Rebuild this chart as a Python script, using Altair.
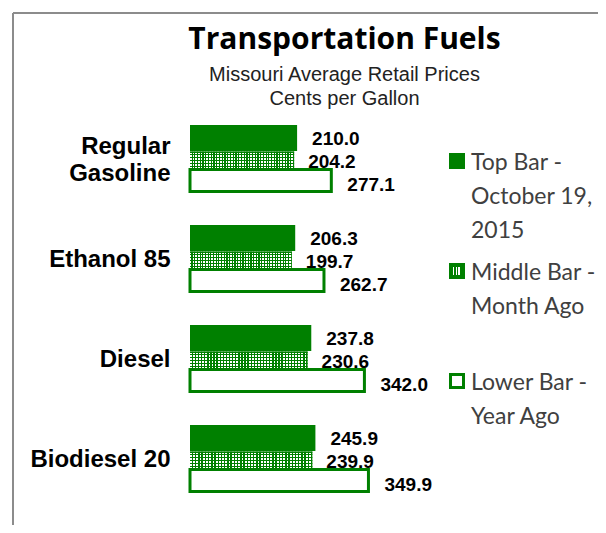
import altair as alt
import pandas as pd

# ---- data ----
fuels = ["Regular Gasoline", "Ethanol 85", "Diesel", "Biodiesel 20"]
current = [210.0, 206.3, 237.8, 245.9]      # Top Bar - October 19, 2015
month_ago = [204.2, 199.7, 230.6, 239.9]    # Middle Bar - Month Ago
year_ago = [277.1, 262.7, 342.0, 349.9]     # Lower Bar - Year Ago

legend_idx = [0, 1, 2]
legend_labels = ["Top Bar -\nOctober 19,\n2015", "Middle Bar -\nMonth Ago", "Lower Bar -\nYear Ago"]

GREEN = "#008000"

df = pd.DataFrame({"fuel": fuels, "current": current, "month": month_ago, "year": year_ago})
leg = pd.DataFrame({"idx": legend_idx, "label": legend_labels})
frame_df = pd.DataFrame({"k": [0]})


def stripes(n, on_frac, on_color, off_color, vertical):
    stops = []
    for i in range(n):
        a = round(i / n, 5)
        b = round((i + on_frac) / n, 5)
        c = round((i + 1) / n, 5)
        stops += [
            alt.GradientStop(offset=a, color=on_color),
            alt.GradientStop(offset=b, color=on_color),
            alt.GradientStop(offset=b, color=off_color),
            alt.GradientStop(offset=c, color=off_color),
        ]
    if vertical:
        return alt.LinearGradient(gradient="linear", stops=stops, x1=0, x2=0, y1=0, y2=1)
    return alt.LinearGradient(gradient="linear", stops=stops, x1=0, x2=1, y1=0, y2=0)


v_stripes = stripes(38, 0.55, "#ffffff", "rgba(255,255,255,0)", False)
h_stripes = stripes(6, 0.4, GREEN, "rgba(0,128,0,0)", True)
sym_stripes = stripes(3, 0.5, "#ffffff", GREEN, False)

y_enc = alt.Y(
    "fuel:N", sort=fuels, title=None,
    scale=alt.Scale(paddingInner=0, paddingOuter=0),
    axis=alt.Axis(domain=False, ticks=False, tickSize=0, grid=False, labelPadding=20,
                  labelFont="Liberation Sans", labelFontSize=24, labelFontWeight="bold",
                  labelColor="#000000", labelLineHeight=27, labelLimit=300,
                  labelOffset={"condition": {"test": "datum.label == 'Regular Gasoline'", "value": -13},
                               "value": 0},
                  labelExpr="datum.label == 'Regular Gasoline' ? ['Regular', 'Gasoline'] : datum.label"),
)
xscale = alt.Scale(domain=[0, 500], nice=False, zero=True)
x_cur = alt.X("current:Q", scale=xscale, axis=None)
x_mon = alt.X("month:Q", scale=xscale, axis=None)
x_yr = alt.X("year:Q", scale=xscale, axis=None)

base = alt.Chart(df)

top_bar = base.mark_bar(size=26, yOffset=-22, fill=GREEN).encode(x=x_cur, y=y_enc)
mid_bar = base.mark_bar(size=17, yOffset=0, fill=GREEN).encode(x=x_mon, y=y_enc)
mid_v = base.mark_bar(size=17, yOffset=0, fill=v_stripes).encode(x=x_mon, y=y_enc)
mid_h = base.mark_bar(size=17, yOffset=0, fill=h_stripes).encode(x=x_mon, y=y_enc)
low_bar = base.mark_bar(size=22, yOffset=20.5, fill="#ffffff", stroke=GREEN,
                        strokeWidth=3).encode(x=x_yr, y=y_enc)

txt = dict(align="left", baseline="middle", font="Liberation Sans", fontSize=19,
           fontWeight="bold", color="#000000")
lab_top = base.mark_text(dx=15, dy=-21, **txt).encode(
    x=x_cur, y=y_enc, text=alt.Text("current:Q", format=".1f"))
lab_mid = base.mark_text(dx=14, dy=2, **txt).encode(
    x=x_mon, y=y_enc, text=alt.Text("month:Q", format=".1f"))
lab_low = base.mark_text(dx=16, dy=25, **txt).encode(
    x=x_yr, y=y_enc, text=alt.Text("year:Q", format=".1f"))

main = alt.layer(top_bar, mid_bar, mid_v, mid_h, low_bar, lab_top, lab_mid, lab_low)

# ---- legend ----
y_leg = alt.Y("idx:Q", axis=None, title=None,
              scale=alt.Scale(domain=[-0.4636, 3.1727], reverse=True, nice=False, zero=False))
lbase = alt.Chart(leg)
sym0 = lbase.transform_filter("datum.idx == 0").mark_square(
    size=256, fill=GREEN, opacity=1, strokeWidth=0).encode(x=alt.value(267), y=y_leg)
sym1 = lbase.transform_filter("datum.idx == 1").mark_square(
    size=256, fill=GREEN, opacity=1, strokeWidth=0).encode(x=alt.value(267), y=y_leg)
sym1b = lbase.transform_filter("datum.idx == 1").mark_square(
    size=64, fill=sym_stripes, opacity=1, strokeWidth=0).encode(x=alt.value(267), y=y_leg)
sym2 = lbase.transform_filter("datum.idx == 2").mark_square(
    size=169, fill="#ffffff", stroke=GREEN, strokeWidth=3, opacity=1).encode(x=alt.value(267), y=y_leg)
leg_text = lbase.mark_text(align="left", baseline="alphabetic", dy=9, lineBreak="\n",
                           lineHeight=34, font="Lato", fontSize=23, color="#404040").encode(
    x=alt.value(281), y=y_leg, text="label:N")

left_line = alt.Chart(frame_df).mark_rule(color="#8c8c8c", strokeWidth=2).encode(
    x=alt.value(-177), y=alt.value(-97), y2=alt.value(415))
top_line = alt.Chart(frame_df).mark_rule(color="#8c8c8c", strokeWidth=2).encode(
    x=alt.value(-177), x2=alt.value(408), y=alt.value(-97))

legend = alt.layer(sym0, sym1, sym1b, sym2, leg_text, left_line, top_line)

chart = alt.layer(main, legend).resolve_scale(y="independent").properties(
    width=255, height=400,
    title=alt.TitleParams(
        text="Transportation Fuels",
        subtitle=["Missouri Average Retail Prices", "Cents per Gallon"],
        font="Open Sans", fontSize=30, fontWeight="bold", color="#000000",
        subtitleFont="Liberation Sans", subtitleFontSize=20, subtitleColor="#222222",
        subtitleLineHeight=24, subtitlePadding=10,
        anchor="middle", frame="group", offset=0, dx=27, dy=97),
    autosize=alt.AutoSizeParams(type="none"),
    padding={"left": 182, "top": 102, "right": 153, "bottom": 15},
).configure_view(stroke=None)

chart.save("out.html", embed_options={"renderer": "svg", "actions": False})
